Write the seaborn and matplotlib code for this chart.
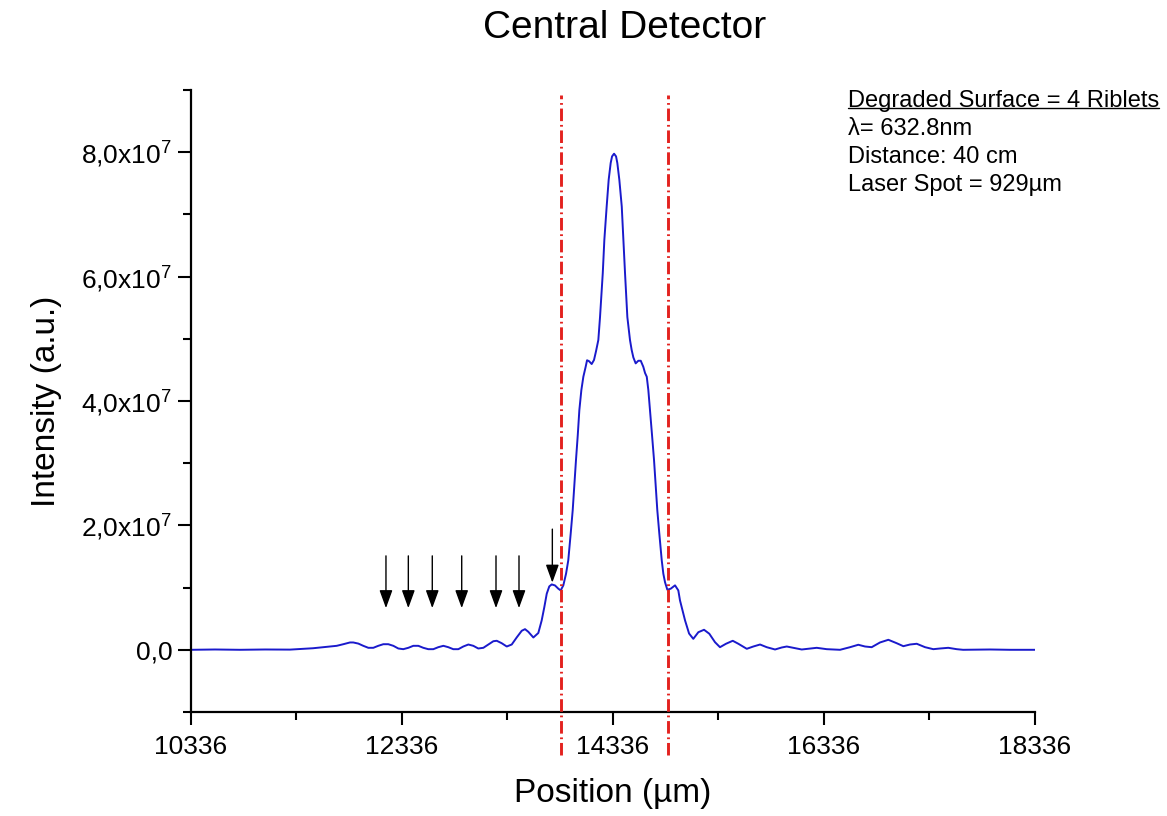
import numpy as np
import pandas as pd
import matplotlib
matplotlib.use("Agg")
import matplotlib.pyplot as plt
import seaborn as sns

# Measured intensity profile of the central detector (position in um, intensity in units of 1e7)
position_um = [
    10336, 10564, 10800, 11037, 11274, 11492, 11654, 11717, 11780, 11843,
    11874, 11922, 11969, 12017, 12064, 12111, 12159, 12206, 12254, 12301,
    12348, 12396, 12443, 12491, 12538, 12585, 12633, 12680, 12728, 12775,
    12822, 12870, 12917, 12965, 13012, 13059, 13107, 13154, 13202, 13234,
    13281, 13329, 13376, 13423, 13471, 13502, 13533, 13581, 13628, 13660,
    13685, 13708, 13732, 13755, 13786, 13818, 13840, 13865, 13891, 13912,
    13935, 13954, 13969, 13985, 14002, 14017, 14036, 14055, 14077, 14090,
    14109, 14134, 14156, 14175, 14197, 14213, 14239, 14254, 14276, 14295,
    14314, 14327, 14346, 14365, 14377, 14396, 14419, 14434, 14450, 14472,
    14497, 14513, 14529, 14551, 14576, 14599, 14623, 14640, 14656, 14671,
    14687, 14706, 14725, 14741, 14756, 14775, 14798, 14813, 14829, 14851,
    14883, 14924, 14955, 14971, 15019, 15057, 15097, 15145, 15199, 15249,
    15303, 15350, 15407, 15471, 15524, 15604, 15666, 15730, 15793, 15872,
    15935, 15983, 16045, 16125, 16204, 16267, 16362, 16488, 16583, 16661,
    16725, 16788, 16867, 16946, 17025, 17088, 17151, 17215, 17294, 17372,
    17436, 17514, 17594, 17654, 17910, 18099, 18336,
]
intensity_e7 = [
    0.000, 0.005, 0.000, 0.005, 0.003, 0.025, 0.053, 0.064, 0.090, 0.118,
    0.118, 0.100, 0.064, 0.032, 0.032, 0.064, 0.090, 0.090, 0.064, 0.021,
    0.010, 0.032, 0.064, 0.064, 0.032, 0.010, 0.010, 0.042, 0.064, 0.042,
    0.010, 0.010, 0.053, 0.085, 0.064, 0.021, 0.032, 0.085, 0.138, 0.145,
    0.106, 0.053, 0.085, 0.198, 0.306, 0.332, 0.290, 0.198, 0.270, 0.472,
    0.686, 0.902, 1.019, 1.051, 1.035, 0.982, 0.955, 1.035, 1.224, 1.438,
    1.868, 2.243, 2.646, 3.048, 3.451, 3.853, 4.175, 4.390, 4.551, 4.655,
    4.640, 4.594, 4.660, 4.800, 4.981, 5.350, 6.055, 6.591, 7.127, 7.557,
    7.826, 7.932, 7.976, 7.932, 7.826, 7.557, 7.127, 6.591, 6.055, 5.350,
    4.981, 4.820, 4.700, 4.605, 4.647, 4.647, 4.551, 4.449, 4.390, 4.175,
    3.853, 3.451, 3.048, 2.646, 2.243, 1.868, 1.438, 1.224, 1.087, 0.966,
    0.982, 1.036, 0.955, 0.794, 0.472, 0.262, 0.176, 0.283, 0.322, 0.258,
    0.122, 0.042, 0.097, 0.145, 0.097, 0.016, 0.053, 0.085, 0.042, 0.005,
    0.037, 0.053, 0.032, 0.005, 0.021, 0.032, 0.010, 0.000, 0.042, 0.081,
    0.053, 0.042, 0.118, 0.161, 0.106, 0.058, 0.085, 0.097, 0.042, 0.010,
    0.021, 0.032, 0.010, 0.000, 0.005, 0.000, 0.000,
]

# Boundaries of the central lobe (dash-dot markers)
boundary_um = [13843, 14857]

# Side fringes marked with arrows: x, arrow start, arrow tip (x1e7)
arrow_x = [12184, 12396, 12623, 12902, 13227, 13445, 13761]
arrow_top_e7 = [1.51, 1.51, 1.51, 1.51, 1.51, 1.51, 1.94]
arrow_tip_e7 = [0.67, 0.67, 0.67, 0.67, 0.67, 0.67, 1.08]

x_ticks = [10336, 12336, 14336, 16336, 18336]
y_ticks_e7 = [0, 2, 4, 6, 8]
y_tick_labels = ["0,0", "2,0x10$^{7}$", "4,0x10$^{7}$", "6,0x10$^{7}$", "8,0x10$^{7}$"]

info_lines = [
    "Degraded Surface = 4 Riblets",
    "\u03bb= 632.8nm",
    "Distance: 40 cm",
    "Laser Spot = 929\u00b5m",
]

sns.set_theme(style="ticks")
plt.rcParams["font.family"] = ["Liberation Sans", "DejaVu Sans"]
plt.rcParams["mathtext.fontset"] = "custom"
plt.rcParams["mathtext.rm"] = "Liberation Sans"
plt.rcParams["mathtext.default"] = "regular"

df = pd.DataFrame({
    "position": position_um,
    "intensity": np.array(intensity_e7) * 1e7,
})

W, H = 1167, 816
fig = plt.figure(figsize=(W / 100, H / 100), dpi=100)
ax = fig.add_axes([191 / W, 104 / H, 844 / W, 622 / H])

sns.lineplot(data=df, x="position", y="intensity", ax=ax,
             color="#1a1acc", linewidth=1.4, sort=False)

ax.set_xlim(10336, 18336)
ax.set_ylim(-1e7, 9e7)

ax.set_xticks(x_ticks)
ax.set_xticklabels([str(t) for t in x_ticks])
ax.set_xticks(np.arange(10336, 18337, 1000), minor=True)
ax.set_yticks([v * 1e7 for v in y_ticks_e7])
ax.set_yticklabels(y_tick_labels)
ax.set_yticks(np.arange(-1, 9.5, 1) * 1e7, minor=True)

ax.tick_params(axis="both", which="major", length=9.5, width=1.5,
               labelsize=19, color="black", labelcolor="black")
ax.tick_params(axis="both", which="minor", length=5.5, width=1.5, color="black")
ax.tick_params(axis="x", which="major", pad=7)
ax.tick_params(axis="y", which="major", pad=4)

for side in ["top", "right"]:
    ax.spines[side].set_visible(False)
for side in ["left", "bottom"]:
    ax.spines[side].set_linewidth(1.6)
    ax.spines[side].set_color("black")

ax.set_xlabel("Position (\u00b5m)", fontsize=24, labelpad=14, color="black")
ax.set_ylabel("Intensity (a.u.)", fontsize=24, labelpad=14, color="black")

# Central-lobe boundaries
for bx in boundary_um:
    ax.axvline(bx, ymin=-0.069, ymax=0.992, clip_on=False, color="#e3221f",
               linewidth=2.1, dashes=[4.3, 1.3, 0.6, 1.3], zorder=3)

# Arrows pointing at the side fringes
for xa, yt, yb in zip(arrow_x, arrow_top_e7, arrow_tip_e7):
    ax.annotate("", xy=(xa, yb * 1e7), xytext=(xa, yt * 1e7),
                arrowprops=dict(arrowstyle="-|>,head_length=0.55,head_width=0.2",
                                color="black", lw=1.0, shrinkA=0, shrinkB=0,
                                mutation_scale=20))

# Measurement conditions
info_texts = []
for i, line in enumerate(info_lines):
    info_texts.append(fig.text(848 / W, 1 - (101 + 28 * i) / H, line, fontsize=17,
                               ha="left", va="center", color="black"))

# Underline the heading line just below its baseline
fig.canvas.draw()
bb = info_texts[0].get_window_extent()
y_ul = (bb.y0 + 4) / H
fig.add_artist(plt.Line2D([bb.x0 / W, bb.x1 / W], [y_ul, y_ul],
                          color="black", linewidth=1.0, transform=fig.transFigure))

fig.text(625 / W, 1 - 28 / H, "Central Detector", fontsize=28,
         ha="center", va="center", color="black")

fig.savefig("out.png", dpi=100, facecolor="white")
